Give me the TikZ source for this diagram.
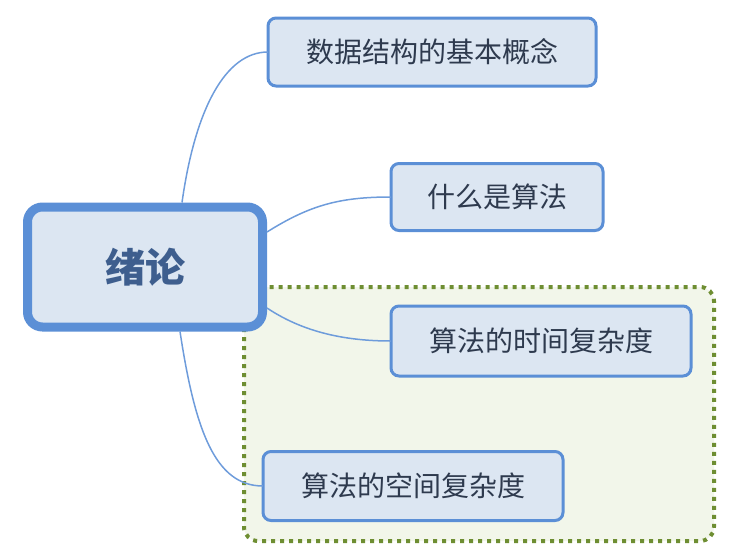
\documentclass[tikz,border=0pt]{standalone}
\usepackage{fontspec}
\setmainfont{Noto Sans CJK SC}
\usetikzlibrary{positioning}
\definecolor{edgeblue}{HTML}{5B8FD6}
\definecolor{fillblue}{HTML}{DCE6F2}
\definecolor{linkblue}{HTML}{6E9CDB}
\definecolor{inkdark}{HTML}{2E3A4E}
\definecolor{inkroot}{HTML}{3E5E8E}
\definecolor{dotgreen}{HTML}{6E8E32}
\definecolor{fillgreen}{HTML}{F2F6EA}

\begin{document}
\begin{tikzpicture}
    [x=1pt,y=-1pt,
     pg/.style={outer sep=0,inner sep=0,draw=edgeblue,fill=fillblue},
     root/.style={pg,rounded corners=15pt,line width=9pt,text=inkroot,
                  font=\fontsize{40}{40}\selectfont\bfseries},
     topic/.style={pg,rounded corners=8pt,line width=3pt,text=inkdark,
                   font=\fontsize{28}{28}\selectfont},
     link/.style={draw=linkblue,line width=1.5pt},
     group/.style={draw=dotgreen,fill=fillgreen,line width=4pt,
                   dash pattern=on 4pt off 5pt,rounded corners=14pt}]
    \useasboundingbox (0,0) rectangle (744,555);

    % summary frame behind the last two topics
    \draw[group] (244,287) rectangle (714,541);

    \node[root,minimum width=235pt,minimum height=120pt] (intro) at (145,267) {绪论};

    \node[topic,minimum width=328pt,minimum height=68pt] (concept) at (432,52) {数据结构的基本概念};
    \node[topic,minimum width=212pt,minimum height=67pt] (algo) at (497,197) {什么是算法};
    \node[topic,minimum width=300pt,minimum height=70pt] (timec) at (541,341) {算法的时间复杂度};
    \node[topic,minimum width=300pt,minimum height=69pt] (spacec) at (413,486) {算法的空间复杂度};

    \draw[link] ([xshift=37pt,yshift=4.5pt]intro.north) .. controls (195,110) and (225,52) .. (concept.west);
    \draw[link] ([yshift=35pt,xshift=4.5pt]intro.east) .. controls (310,205) and (340,197) .. (algo.west);
    \draw[link] ([yshift=-41pt,xshift=4.5pt]intro.east) .. controls (300,330) and (340,341) .. (timec.west);
    \draw[link] ([xshift=35pt,yshift=-4.5pt]intro.south) .. controls (195,430) and (215,486) .. (spacec.west);
\end{tikzpicture}
\end{document}
